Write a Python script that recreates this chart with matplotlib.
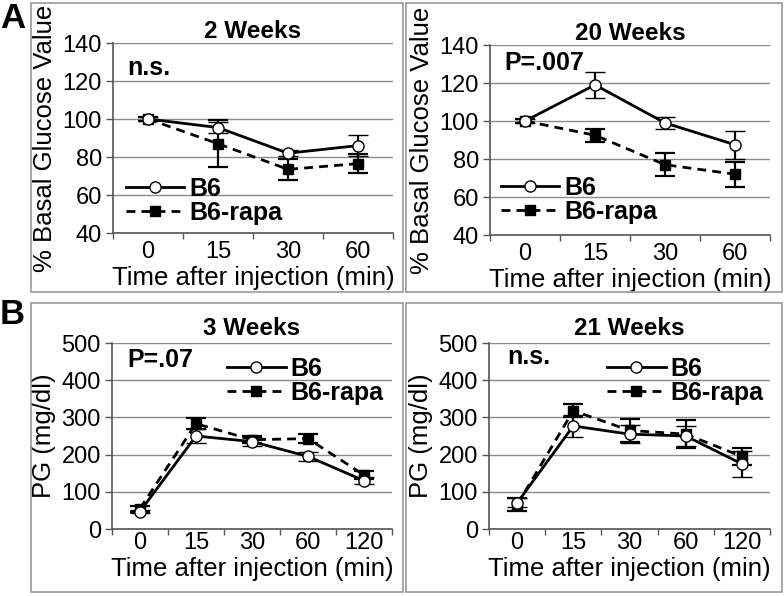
import matplotlib.pyplot as plt
from matplotlib.patches import Rectangle
from matplotlib.lines import Line2D

plt.rcParams['font.family'] = ['Liberation Sans', 'DejaVu Sans']

# time points (categorical)
times_a = ['0', '15', '30', '60']
times_b = ['0', '15', '30', '60', '120']

# panel A: % basal glucose value
w2_b6 = [100, 95.5, 82, 86]
w2_b6_err = [1, 3, 1.5, 5.5]
w2_rapa = [100, 87, 73.5, 76.5]
w2_rapa_err = [1, 12.5, 5.5, 5]

w20_b6 = [100, 119, 99, 87.5]
w20_b6_err = [1, 7, 3, 7.5]
w20_rapa = [100, 92.5, 77, 72]
w20_rapa_err = [1, 3.3, 6, 6.5]

# panel B: PG (mg/dl)
w3_b6 = [47, 250, 235, 195, 130]
w3_b6_err = [5, 18, 12, 13, 10]
w3_rapa = [55, 283, 240, 243, 145]
w3_rapa_err = [8, 15, 10, 12, 10]

w21_b6 = [70, 277, 255, 250, 175]
w21_b6_err = [12, 30, 25, 28, 35]
w21_rapa = [65, 318, 265, 255, 195]
w21_rapa_err = [17, 18, 32, 38, 22]

W, H = 784, 596
fig = plt.figure(figsize=(W / 100, H / 100), dpi=100)
DASH = (0, (3.2, 2.2))


def px_rect(x0, y0, x1, y1):
    # pixel box (top-left origin) -> figure fraction [l, b, w, h]
    return [x0 / W, (H - y1) / H, (x1 - x0) / W, (y1 - y0) / H]


# panel frames
for x0, y0, x1, y1 in [(31, 3, 403, 292), (406, 3, 782, 292),
                       (31, 303, 403, 592), (406, 303, 782, 592)]:
    l, b, w, h = px_rect(x0, y0, x1, y1)
    fig.patches.append(Rectangle((l, b), w, h, transform=fig.transFigure,
                                 fill=False, edgecolor='#9a9a9a', lw=1.2))

fig.text(0 / W, 1 - 18 / H, 'A', fontsize=25, fontweight='bold', va='center', ha='left')
fig.text(0 / W, 1 - 314 / H, 'B', fontsize=25, fontweight='bold', va='center', ha='left')


def draw(rect, times, b6, b6e, rapa, rapae, ylim, yticks, ylabel, title, note,
         note_xy, leg_xy, title_pad, tick_pad):
    ax = fig.add_axes(px_rect(*rect))
    x = list(range(len(times)))
    ax.errorbar(x, b6, yerr=b6e, color='black', lw=2, ls='-', marker='o',
                ms=8, mfc='white', mec='black', mew=1, capsize=7, capthick=1.6,
                elinewidth=1.6, zorder=4)
    ax.errorbar(x, rapa, yerr=rapae, color='black', lw=2, ls=DASH,
                marker='s', ms=7, mfc='black', mec='black', capsize=7,
                capthick=1.6, elinewidth=1.6, zorder=3)
    ax.set_xlim(-0.5, len(times) - 0.5)
    ax.set_ylim(*ylim)
    ax.set_yticks(yticks)
    ax.set_xticks(x)
    ax.set_xticklabels(times)
    ax.set_xticks([i - 0.5 for i in range(len(times) + 1)], minor=True)
    ax.tick_params(axis='x', which='major', length=0, pad=tick_pad, labelsize=17)
    ax.tick_params(axis='x', which='minor', length=4, width=1, color='#555555')
    ax.tick_params(axis='y', length=5, width=1, color='#555555', pad=3, labelsize=17)
    ax.grid(axis='y', color='#8a8a8a', lw=1)
    ax.set_axisbelow(True)
    for s in ['top', 'right']:
        ax.spines[s].set_visible(False)
    for s in ['left', 'bottom']:
        ax.spines[s].set_color('#555555')
        ax.spines[s].set_linewidth(1.2)
    ax.set_title(title, fontsize=17.5, fontweight='bold', pad=title_pad)
    ax.set_xlabel('Time after injection (min)', fontsize=18.5, labelpad=2)
    ax.set_ylabel(ylabel, fontsize=18.5, labelpad=4)
    ax.text(note_xy[0], note_xy[1], note, transform=ax.transAxes, fontsize=18,
            fontweight='bold', va='center', ha='left')
    handles = [
        Line2D([], [], color='black', lw=2, marker='o', ms=8, mfc='white', mec='black'),
        Line2D([], [], color='black', lw=2, ls=DASH, marker='s', ms=7),
    ]
    ax.legend(handles, ['B6', 'B6-rapa'], loc='center left', bbox_to_anchor=leg_xy,
              frameon=False, borderpad=0, borderaxespad=0, handlelength=2.35,
              handletextpad=0.2, labelspacing=0.0,
              prop={'size': 18, 'weight': 'bold'})
    return ax


draw((113, 43, 393, 233), times_a, w2_b6, w2_b6_err, w2_rapa, w2_rapa_err,
     (40, 140), range(40, 141, 20), '% Basal Glucose Value', '2 Weeks', 'n.s.',
     (0.05, 0.868), (0.045, 0.168), 2, 6)
draw((490, 45, 770, 235), times_a, w20_b6, w20_b6_err, w20_rapa, w20_rapa_err,
     (40, 140), range(40, 141, 20), '% Basal Glucose Value', '20 Weeks', 'P=.007',
     (0.05, 0.905), (0.038, 0.184), 2, 6)
draw((112, 343, 392, 529), times_b, w3_b6, w3_b6_err, w3_rapa, w3_rapa_err,
     (0, 500), range(0, 501, 100), 'PG (mg/dl)', '3 Weeks', 'P=.07',
     (0.054, 0.909), (0.41, 0.796), 6, 2)
draw((489, 343, 770, 529), times_b, w21_b6, w21_b6_err, w21_rapa, w21_rapa_err,
     (0, 500), range(0, 501, 100), 'PG (mg/dl)', '21 Weeks', 'n.s.',
     (0.064, 0.925), (0.42, 0.796), 6, 2)

fig.savefig('out.png', dpi=100)
